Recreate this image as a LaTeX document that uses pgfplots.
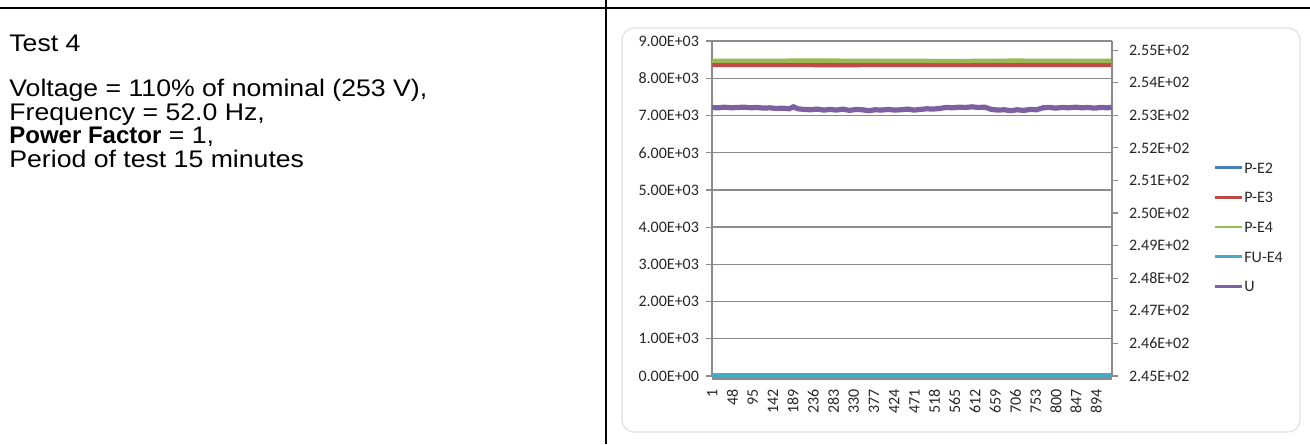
\documentclass[border=0pt]{standalone}
\usepackage{fontspec}
\setmainfont{Liberation Sans}[FakeStretch=1.11, BoldFeatures={FakeStretch=1.0}]
\newfontfamily\chartfont{Carlito}
\usepackage{pgfplots}
\pgfplotsset{compat=1.18}

\definecolor{cPE2}{HTML}{4A7EBB}
\definecolor{cPE3}{HTML}{BE4B48}
\definecolor{cPE4}{HTML}{98B954}
\definecolor{cFU}{HTML}{46AAC5}
\definecolor{cU}{HTML}{7D60A0}
\definecolor{gridc}{HTML}{8C8C8C}
\definecolor{txt}{HTML}{262626}

\pgfplotsset{
  chartbase/.style={
    scale only axis, width=200pt, height=167.5pt,
    at={(356pt,34pt)}, anchor=south west,
    xmin=0.5, xmax=930.5,
    tick align=outside, major tick length=3pt,
    /pgf/number format/assume math mode=true,
    every tick label/.append style={font=\chartfont\fontsize{8}{9}\selectfont, text=txt},
    axis line style={gridc, line width=0.7pt},
    every tick/.append style={gridc, line width=0.6pt},
  }
}

\begin{document}
\begin{tikzpicture}[x=0.5pt,y=0.5pt]
\path[use as bounding box] (0,0) rectangle (1310,444);
% table rules
\draw[line width=1.1pt] (0,436) -- (1310,436);
\draw[line width=1.1pt] (606,0) -- (606,444);
% chart area
\draw[black!12, line width=0.6pt, rounded corners=6pt] (622,12) rectangle (1300,416);

% left text
\begin{scope}[every node/.style={anchor=base west, inner sep=0pt, font=\fontsize{12}{13}\selectfont}]
\node at (9,392.5) {Test 4};
\node at (9,347.5) {Voltage = 110\% of nominal (253 V),};
\node at (9,323.5) {Frequency = 52.0 Hz,};
\node at (9,300.5) {\textbf{Power Factor} = 1,};
\node at (9,276.5) {Period of test 15 minutes};
\end{scope}

% primary axis
\begin{axis}[chartbase,
  ymin=0, ymax=9000,
  axis x line*=bottom, axis y line*=left,
  x axis line style={line width=2pt, gridc, yshift=-1pt},
  ytick={0,1000,...,9000},
  yticklabels={0.00E+00,1.00E+03,2.00E+03,3.00E+03,4.00E+03,5.00E+03,6.00E+03,7.00E+03,8.00E+03,9.00E+03},
  xtick={1,48,...,894},
  xtick style={draw=none},
  xticklabel style={rotate=90, anchor=east},
  ymajorgrids, major grid style={gridc, line width=0.7pt},
  legend style={at={(1.2525,0.445)}, anchor=west, draw=none, fill=none,
    font=\chartfont\fontsize{8}{9}\selectfont, text=txt,
    row sep=8pt, inner sep=0pt,
    nodes={inner sep=0.6pt, text height=5.6pt, text depth=0pt}},
  legend cell align=left,
  legend image code/.code={\draw[#1, line width=1.4pt] (0pt,0pt) -- (13.5pt,0pt);},
]
\addplot[cPE2, line width=2pt] coordinates {(1,8423) (930,8423)};
\addlegendentry{P-E2}
\addplot[cPE3, line width=2.2pt] coordinates {(1,8356) (300,8354) (600,8357) (930,8356)};
\addlegendentry{P-E3}
\addplot[cPE4, line width=2.2pt] coordinates {(1,8470) (270,8472) (420,8468) (570,8462) (700,8472) (930,8466)};
\addlegendentry{P-E4}
\addplot[cFU, line width=2pt] coordinates {(1,35) (930,35)};
\addlegendentry{FU-E4}
\addlegendimage{cU, line width=2pt}
\addlegendentry{U}
\end{axis}

% secondary axis
\begin{axis}[chartbase,
  ymin=245, ymax=255.28,
  axis x line=none, axis y line*=right,
  ytick={245,...,255},
  yticklabels={2.45E+02,2.46E+02,2.47E+02,2.48E+02,2.49E+02,2.50E+02,2.51E+02,2.52E+02,2.53E+02,2.54E+02,2.55E+02},
  yticklabel style={xshift=2pt},
]
\addplot[cU, line width=2.6pt] coordinates {
(1,253.24) (15,253.23) (30,253.25) (45,253.23) (60,253.24) (75,253.25)
(90,253.23) (105,253.24) (120,253.22) (135,253.23) (150,253.21) (165,253.22)
(180,253.20) (190,253.26) (200,253.20) (215,253.18) (230,253.17) (245,253.19)
(260,253.16) (275,253.18) (290,253.16) (305,253.19) (320,253.15) (335,253.18)
(350,253.17) (365,253.14) (380,253.17) (395,253.16) (410,253.18) (425,253.16)
(440,253.17) (455,253.19) (470,253.16) (485,253.18) (500,253.20) (515,253.19)
(530,253.21) (545,253.24) (560,253.23) (575,253.25) (590,253.24) (605,253.26)
(620,253.24) (635,253.25) (650,253.18) (665,253.16) (680,253.17) (695,253.14)
(710,253.17) (725,253.15) (740,253.18) (755,253.17) (770,253.23) (785,253.24)
(800,253.22) (815,253.24) (830,253.23) (845,253.25) (860,253.23) (875,253.24)
(890,253.22) (905,253.24) (920,253.23) (930,253.25)
};
\end{axis}
\end{tikzpicture}
\end{document}
